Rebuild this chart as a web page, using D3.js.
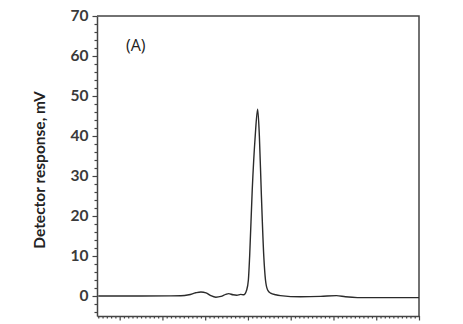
<!DOCTYPE html>
<html>
<head>
<meta charset="utf-8">
<script src="https://cdn.jsdelivr.net/npm/d3@7"></script>
<style>
  body { margin: 0; background: #fff; }
  svg { display: block; }
</style>
</head>
<body>
<div id="chart"></div>
<script>
// chromatogram trace (time, min / response, mV)
const times = [10.5, 11.5, 12.43, 12.62, 12.78, 12.9, 13.02, 13.13, 13.25, 13.37, 13.48, 13.55,
  13.65, 13.74, 13.83, 13.9, 13.97, 14.01, 14.04, 14.1, 14.17, 14.227, 14.267, 14.31, 14.37,
  14.41, 14.46, 14.53, 14.65, 14.76, 15.23, 15.7, 16.07, 16.28, 16.56, 18.0];
const response = [0, 0, 0.05, 0.3, 0.8, 1.0, 0.8, 0.1, -0.3, -0.1, 0.4, 0.6,
  0.3, 0.2, 0.4, 0.3, 1.5, 4, 10, 26.5, 40, 46.7, 40, 26.5, 10,
  4, 1.5, 0.7, 0.3, 0.1, -0.2, -0.1, 0.1, -0.2, -0.4, -0.4];
const yTicks = [0, 10, 20, 30, 40, 50, 60, 70];
const xMajor = [11, 12, 13, 14, 15, 16, 17, 18];
const panelLabel = "(A)";
const yTitle = "Detector response, mV";

const W = 463, H = 324;
const m = {left: 97, right: 419, top: 16, bottom: 316};

const svg = d3.select("#chart").append("svg")
  .attr("width", W).attr("height", H);

const x = d3.scaleLinear().domain([10.47, 18.0]).range([m.left, m.right]);
const y = d3.scaleLinear().domain([-5, 70]).range([m.bottom, m.top]);

const axisColor = "#444";

// frame (top and right)
svg.append("path")
  .attr("d", `M${m.left},${m.top}H${m.right}V${m.bottom}`)
  .attr("fill", "none").attr("stroke", axisColor).attr("stroke-width", 1.5);

// y axis with minor ticks every 2 mV
const yMinor = d3.range(-4, 70, 2).filter(v => v % 10 !== 0);
const gyMinor = svg.append("g").attr("transform", `translate(${m.left},0)`)
  .call(d3.axisLeft(y).tickValues(yMinor).tickSize(2.5).tickFormat(""));
gyMinor.select(".domain").remove();
gyMinor.selectAll("line").attr("stroke", axisColor).attr("stroke-width", 1.2);

const gy = svg.append("g").attr("transform", `translate(${m.left},0)`)
  .call(d3.axisLeft(y).tickValues(yTicks).tickSize(4.5).tickPadding(4).tickSizeOuter(0));
gy.select(".domain").attr("stroke", axisColor).attr("stroke-width", 1.5);
gy.selectAll("line").attr("stroke", axisColor).attr("stroke-width", 1.2);
gy.selectAll("text")
  .attr("font-family", "Lato, sans-serif").attr("font-weight", "bold")
  .attr("font-size", 15.5).attr("fill", "#3a3a3a");

// x axis: unlabelled, minor ticks every 0.1 min
const xMinor = d3.range(10.5, 18.0, 0.1).filter(v => Math.abs(v - Math.round(v)) > 0.01);
const gxMinor = svg.append("g").attr("transform", `translate(0,${m.bottom})`)
  .call(d3.axisBottom(x).tickValues(xMinor).tickSize(2.5).tickFormat(""));
gxMinor.select(".domain").remove();
gxMinor.selectAll("line").attr("stroke", axisColor).attr("stroke-width", 1.2);

const gx = svg.append("g").attr("transform", `translate(0,${m.bottom})`)
  .call(d3.axisBottom(x).tickValues(xMajor).tickSize(4.5).tickFormat("").tickSizeOuter(0));
gx.select(".domain").attr("stroke", axisColor).attr("stroke-width", 1.5);
gx.selectAll("line").attr("stroke", axisColor).attr("stroke-width", 1.2);

// trace
const pts = times.map((t, i) => [t, response[i]]);
svg.append("path")
  .datum(pts)
  .attr("fill", "none")
  .attr("stroke", "#2b2b2b")
  .attr("stroke-width", 1.4)
  .attr("d", d3.line().x(d => x(d[0])).y(d => y(d[1])).curve(d3.curveMonotoneX));

// panel label
svg.append("text")
  .attr("x", 126).attr("y", 51)
  .attr("font-family", "Open Sans, sans-serif").attr("font-size", 16)
  .attr("fill", "#222")
  .text(panelLabel);

// y title
svg.append("text")
  .attr("transform", `translate(45,${(m.top + m.bottom) / 2 + 4}) rotate(-90)`)
  .attr("text-anchor", "middle")
  .attr("font-family", "Lato, sans-serif").attr("font-weight", "bold")
  .attr("font-size", 15.5).attr("fill", "#222")
  .text(yTitle);
</script>
</body>
</html>
